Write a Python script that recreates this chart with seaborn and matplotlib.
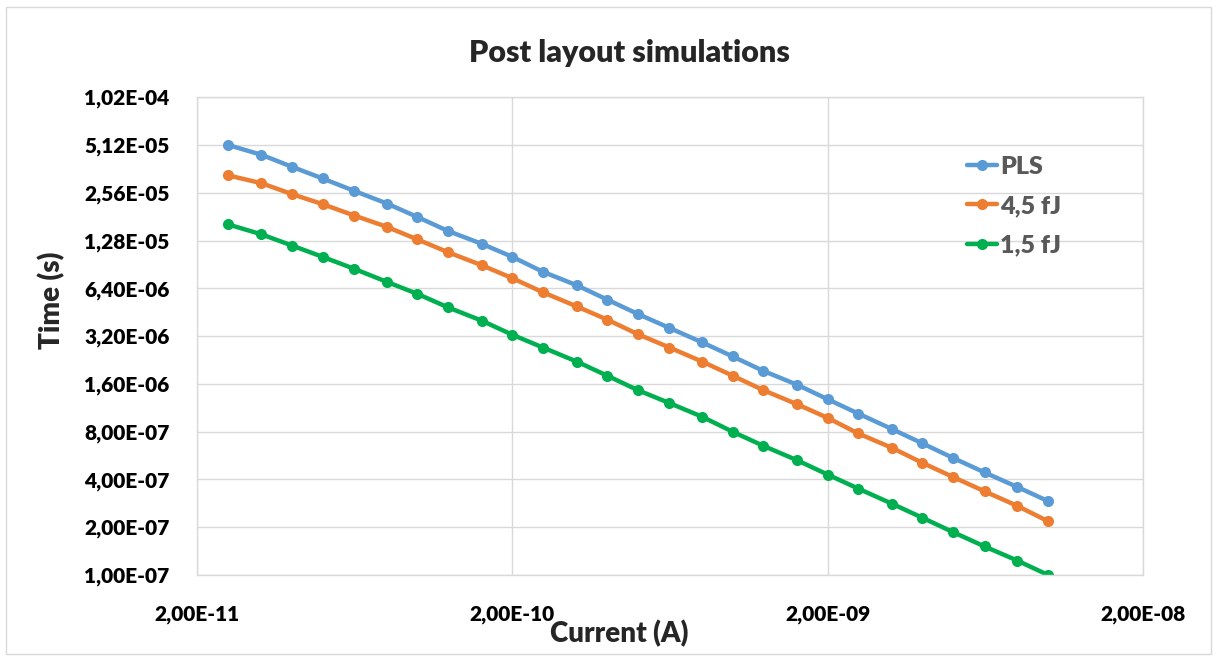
import matplotlib
matplotlib.use("Agg")
import matplotlib.pyplot as plt
import seaborn as sns
import pandas as pd

# Data
current = [2.5e-11, 3.2e-11, 4.0e-11, 5.0e-11, 6.3e-11, 8.0e-11,
           1.0e-10, 1.25e-10, 1.6e-10, 2.0e-10, 2.5e-10, 3.2e-10,
           4.0e-10, 5.0e-10, 6.3e-10, 8.0e-10, 1.0e-9, 1.25e-9,
           1.6e-9, 2.0e-9, 2.5e-9, 3.2e-9, 4.0e-9, 5.0e-9,
           6.3e-9, 8.0e-9, 1.0e-8]

time_pls = [5.13e-5, 4.44e-5, 3.73e-5, 3.15e-5, 2.63e-5, 2.19e-5,
            1.80e-5, 1.47e-5, 1.22e-5, 1.01e-5, 8.13e-6, 6.69e-6,
            5.43e-6, 4.41e-6, 3.60e-6, 2.92e-6, 2.38e-6, 1.93e-6,
            1.58e-6, 1.28e-6, 1.04e-6, 8.30e-7, 6.74e-7, 5.46e-7,
            4.42e-7, 3.58e-7, 2.92e-7]

time_45fj = [3.30e-5, 2.94e-5, 2.51e-5, 2.17e-5, 1.84e-5, 1.56e-5,
             1.30e-5, 1.08e-5, 8.94e-6, 7.41e-6, 6.04e-6, 4.92e-6,
             4.06e-6, 3.29e-6, 2.71e-6, 2.21e-6, 1.80e-6, 1.46e-6,
             1.19e-6, 9.77e-7, 7.79e-7, 6.32e-7, 5.08e-7, 4.14e-7,
             3.36e-7, 2.72e-7, 2.18e-7]

time_15fj = [1.62e-5, 1.40e-5, 1.19e-5, 1.01e-5, 8.49e-6, 7.02e-6,
             5.90e-6, 4.85e-6, 4.00e-6, 3.26e-6, 2.71e-6, 2.21e-6,
             1.80e-6, 1.46e-6, 1.21e-6, 9.92e-7, 7.98e-7, 6.51e-7,
             5.28e-7, 4.29e-7, 3.50e-7, 2.81e-7, 2.29e-7, 1.86e-7,
             1.51e-7, 1.23e-7, 1.00e-7]

series_names = ["PLS", "4,5 fJ", "1,5 fJ"]
series_colors = ["#5B9BD5", "#ED7D31", "#00B050"]

x_ticks = [2e-11, 2e-10, 2e-9, 2e-8]
x_tick_labels = ["2,00E-11", "2,00E-10", "2,00E-09", "2,00E-08"]
y_ticks = [1.0e-7, 2.0e-7, 4.0e-7, 8.0e-7, 1.6e-6, 3.2e-6,
           6.4e-6, 1.28e-5, 2.56e-5, 5.12e-5, 1.024e-4]
y_tick_labels = ["1,00E-07", "2,00E-07", "4,00E-07", "8,00E-07", "1,60E-06",
                 "3,20E-06", "6,40E-06", "1,28E-05", "2,56E-05", "5,12E-05",
                 "1,02E-04"]

df = pd.concat([
    pd.DataFrame({"current": current, "time": t, "series": name})
    for name, t in zip(series_names, [time_pls, time_45fj, time_15fj])
])

sns.set_theme(style="white")
plt.rcParams["font.family"] = ["Lato", "DejaVu Sans"]
WEIGHT = "heavy"

fig = plt.figure(figsize=(12.17, 6.57), dpi=100)
ax = fig.add_axes([0.162, 0.125, 0.777, 0.727])

sns.lineplot(data=df, x="current", y="time", hue="series",
             hue_order=series_names, palette=series_colors,
             marker="o", markersize=8, markeredgewidth=0,
             linewidth=3.2, ax=ax, legend=False, estimator=None, sort=False)

ax.set_xscale("log")
ax.set_yscale("log", base=2)
ax.set_xlim(2e-11, 2e-8)
ax.set_ylim(1.0e-7, 1.024e-4)
ax.set_xticks(x_ticks)
ax.set_xticklabels(x_tick_labels)
ax.set_yticks(y_ticks)
ax.set_yticklabels(y_tick_labels)
ax.minorticks_off()
ax.tick_params(axis="both", length=0, labelsize=15, colors="black")
ax.tick_params(axis="y", pad=20)
ax.tick_params(axis="x", pad=22)
for lab in ax.get_xticklabels() + ax.get_yticklabels():
    lab.set_fontweight(WEIGHT)

ax.grid(True, color="#D9D9D9", linewidth=1)
ax.set_axisbelow(True)
for side, sp in ax.spines.items():
    sp.set_color("#D9D9D9")
    sp.set_linewidth(1)

ax.set_xlabel("Current (A)", fontsize=20, fontweight=WEIGHT)
ax.set_ylabel("Time (s)", fontsize=20, fontweight=WEIGHT)
ax.xaxis.set_label_coords(0.446, -0.122)
ax.yaxis.set_label_coords(-0.154, 0.575)
ax.xaxis.label.set_va("center")
ax.yaxis.label.set_va("center")

fig.text(0.517, 0.92, "Post layout simulations", ha="center", va="center",
         fontsize=22, fontweight=WEIGHT)

# legend
handles = [plt.Line2D([], [], color=c, marker="o", markersize=8,
                      markeredgewidth=0, linewidth=3.2) for c in series_colors]
leg = ax.legend(handles, series_names, loc="upper left",
                bbox_to_anchor=(0.79, 0.925), frameon=False,
                handlelength=1.2, handletextpad=0.15, labelspacing=0.7,
                prop={"size": 18, "weight": WEIGHT})
for txt in leg.get_texts():
    txt.set_color("#595959")

# chart border
fig.patches.append(plt.Rectangle((0.005, 0.005), 0.99, 0.985,
                                 transform=fig.transFigure, fill=False,
                                 edgecolor="#D9D9D9", linewidth=1))

fig.savefig("out.png", dpi=100)
